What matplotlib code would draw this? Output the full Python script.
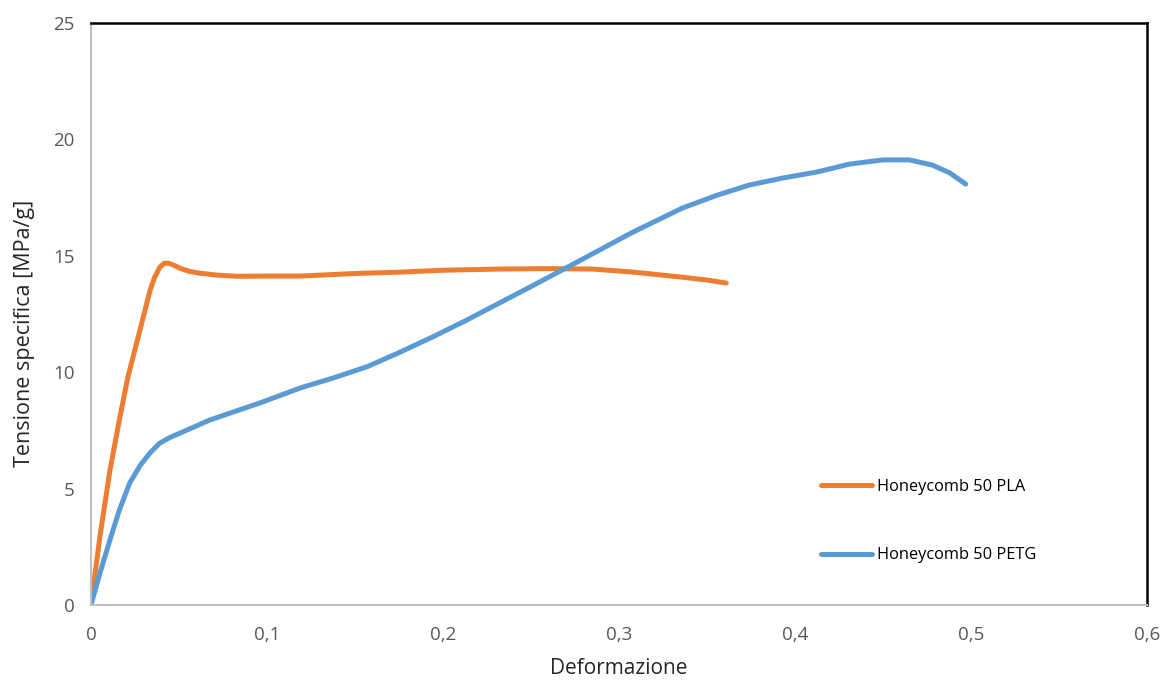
import matplotlib.pyplot as plt
from matplotlib.ticker import FuncFormatter

# Honeycomb 50 PLA
pla_def = [0.0, 0.005, 0.0108, 0.016, 0.021, 0.0278, 0.0335, 0.036, 0.039, 0.0415,
           0.044, 0.047, 0.051, 0.056, 0.062, 0.072, 0.083, 0.1, 0.119, 0.15,
           0.176, 0.2, 0.232, 0.26, 0.285, 0.308, 0.335, 0.35, 0.361]
pla_ten = [0.0, 2.9, 5.8, 7.9, 9.8, 11.8, 13.5, 14.05, 14.5, 14.68,
           14.68, 14.6, 14.45, 14.33, 14.25, 14.17, 14.12, 14.13, 14.13, 14.24,
           14.3, 14.38, 14.43, 14.45, 14.43, 14.3, 14.09, 13.96, 13.83]

# Honeycomb 50 PETG
petg_def = [0.0, 0.005, 0.0108, 0.016, 0.022, 0.028, 0.0335, 0.039, 0.045, 0.0676,
            0.096, 0.1188, 0.138, 0.157, 0.175, 0.194, 0.213, 0.232, 0.251, 0.27,
            0.289, 0.308, 0.336, 0.356, 0.374, 0.393, 0.4125, 0.431, 0.45, 0.465,
            0.478, 0.488, 0.497]
petg_ten = [0.0, 1.35, 2.8, 4.05, 5.24, 6.0, 6.53, 6.95, 7.2, 7.95,
            8.68, 9.32, 9.76, 10.24, 10.84, 11.51, 12.22, 12.97, 13.72, 14.48,
            15.25, 16.02, 17.05, 17.61, 18.04, 18.34, 18.6, 18.94, 19.12, 19.12,
            18.9, 18.56, 18.08]

x_ticks = [0, 0.1, 0.2, 0.3, 0.4, 0.5, 0.6]
y_ticks = [0, 5, 10, 15, 20, 25]

plt.rcParams['font.family'] = ['Open Sans', 'DejaVu Sans']

fig = plt.figure(figsize=(11.65, 6.81), dpi=100)
ax = fig.add_axes([0.0781, 0.1116, 0.9064, 0.8546])

ax.plot(pla_def, pla_ten, color='#ED7D31', lw=3.6, solid_capstyle='round',
        solid_joinstyle='round', label='Honeycomb 50 PLA')
ax.plot(petg_def, petg_ten, color='#5B9BD5', lw=3.6, solid_capstyle='round',
        solid_joinstyle='round', label='Honeycomb 50 PETG')

ax.set_xlim(0, 0.6)
ax.set_ylim(0, 25)
ax.set_xticks(x_ticks)
ax.set_yticks(y_ticks)
ax.xaxis.set_major_formatter(FuncFormatter(lambda v, p: ('%g' % v).replace('.', ',')))
ax.tick_params(length=0, labelsize=13.5, labelcolor='#595959')
ax.tick_params(axis='x', pad=15)
ax.tick_params(axis='y', pad=12)

for s in ('left', 'bottom'):
    ax.spines[s].set_color('#BFBFBF')
    ax.spines[s].set_linewidth(1.5)
for s in ('top', 'right'):
    ax.spines[s].set_color('black')
    ax.spines[s].set_linewidth(1.8)

ax.set_xlabel('Deformazione', fontsize=15, color='#262626', va='bottom')
ax.xaxis.set_label_coords(0.5, -0.128)
ax.set_ylabel('Tensione specifica [MPa/g]', fontsize=15.5, color='#262626', va='center')
ax.yaxis.set_label_coords(-0.0634, 0.467)

ax.legend(loc='upper left', bbox_to_anchor=(0.685, 0.228), frameon=False,
          fontsize=11.8, handlelength=3.1, handletextpad=0.3, labelspacing=3.2,
          borderaxespad=0)

fig.savefig('out.png', dpi=100)
